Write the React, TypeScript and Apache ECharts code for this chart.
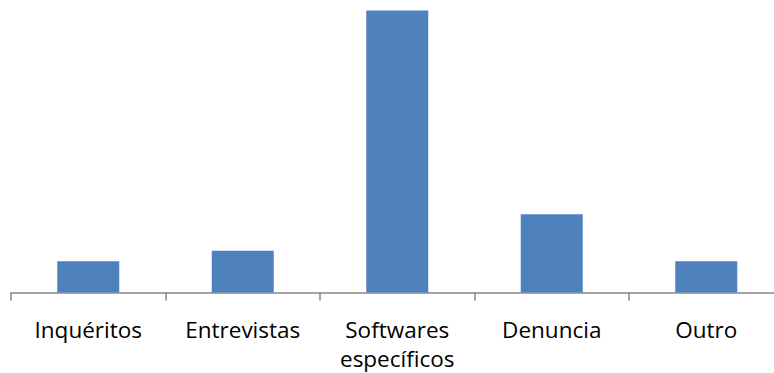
import React, { useEffect, useRef } from "react";
import * as echarts from "echarts";

const categories = ["Inquéritos", "Entrevistas", "Softwares\nespecíficos", "Denuncia", "Outro"];
const values = [6, 8, 54, 15, 6];

export default function App() {
  const ref = useRef<HTMLDivElement>(null);
  useEffect(() => {
    if (!ref.current) return;
    const chart = echarts.init(ref.current, null, { renderer: "svg" });
    chart.setOption({
      animation: false,
      grid: { left: 11, top: 10.5, width: 772.5, bottom: 80.5, containLabel: false, outerBoundsMode: "none" },
      xAxis: {
        type: "category",
        data: categories,
        axisLine: { lineStyle: { color: "#868686", width: 1.5 } },
        axisTick: { show: true, length: 8, lineStyle: { color: "#868686", width: 1.5 } },
        axisLabel: {
          color: "#000",
          fontFamily: "Open Sans",
          fontSize: 22.5,
          lineHeight: 29,
          margin: 22,
          interval: 0,
        },
      },
      yAxis: { type: "value", min: 0, max: 54, show: false, splitLine: { show: false } },
      series: [
        {
          type: "bar",
          data: values,
          barWidth: 62,
          itemStyle: { color: "#4F81BD" },
        },
      ],
    });
    return () => chart.dispose();
  }, []);
  return (
    <div style={{ width: 774, height: 373, position: "absolute", left: 0, top: 0, overflow: "hidden" }}>
      <div ref={ref} style={{ width: 800, height: 373 }} />
    </div>
  );
}
